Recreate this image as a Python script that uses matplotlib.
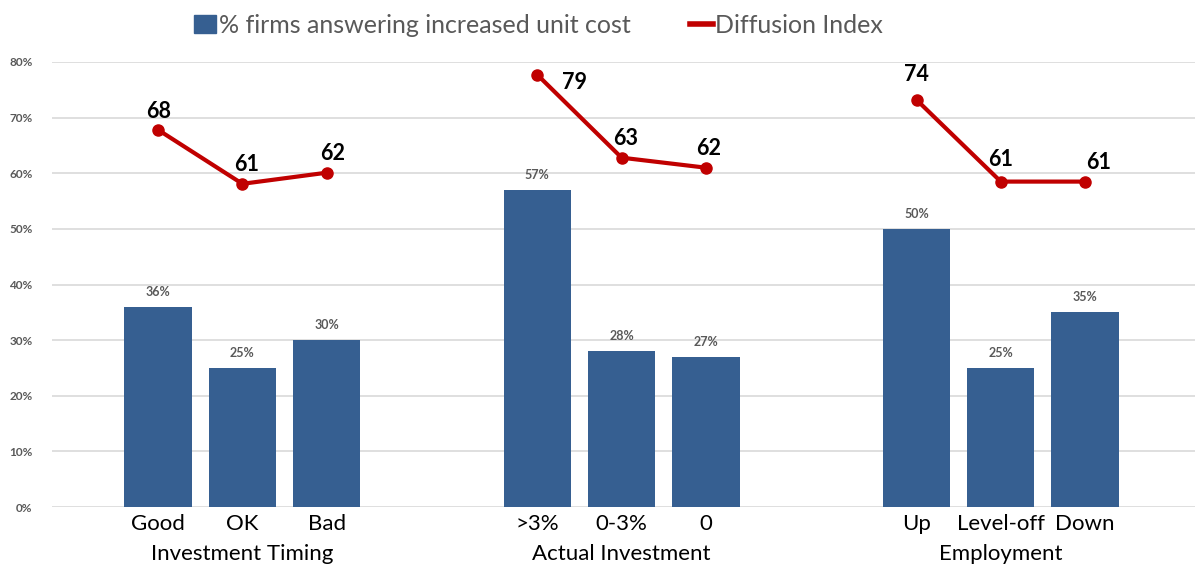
import matplotlib.pyplot as plt
from matplotlib.lines import Line2D
from matplotlib.patches import Patch

plt.rcParams['font.family'] = ['Lato', 'DejaVu Sans']

categories = ['Good', 'OK', 'Bad', '>3%', '0-3%', '0', 'Up', 'Level-off', 'Down']
groups = ['Investment Timing', 'Actual Investment', 'Employment']
# % firms answering increased unit cost
cost_pct = [36, 25, 30, 57, 28, 27, 50, 25, 35]
# diffusion index: plotted level (on % scale) and its label
di_level = [67.8, 58.1, 60.1, 77.7, 62.8, 61.0, 73.2, 58.5, 58.5]
di_label = [68, 61, 62, 79, 63, 62, 74, 61, 61]

xpos = [0, 1, 2, 4.5, 5.5, 6.5, 9, 10, 11]
bar_color = '#365F91'
line_color = '#C00000'

fig = plt.figure(figsize=(11.97, 5.74), dpi=100)
ax = fig.add_axes([0.0434, 0.1167, 0.9546, 0.7753])

ax.bar(xpos, cost_pct, width=0.8, color=bar_color, zorder=2)
for x, v in zip(xpos, cost_pct):
    ax.text(x, v + 1.6, f'{v}%', ha='center', va='bottom', fontsize=9,
            color='#595959', fontweight='bold')

# label offsets (points) for the diffusion index values
offs = [(0, 6), (3, 6), (4, 6), (27, -13), (3, 6), (2, 6), (0, 11), (0, 8), (10, 6)]
for g in range(3):
    xs = xpos[g * 3:g * 3 + 3]
    ys = di_level[g * 3:g * 3 + 3]
    ax.plot(xs, ys, color=line_color, lw=3, marker='o', ms=8, zorder=3)
for x, y, lab, (dx, dy) in zip(xpos, di_level, di_label, offs):
    ax.annotate(str(lab), (x, y), xytext=(dx, dy), textcoords='offset points',
                ha='center', va='bottom', fontsize=15.5, fontweight='bold',
                color='black')

ax.set_xlim(-1.26, 12.3)
ax.set_ylim(0, 80)
ax.set_yticks(range(0, 81, 10))
ax.set_yticklabels([f'{t}%' for t in range(0, 81, 10)], fontsize=8.5,
                   color='#595959', fontweight='bold')
ax.grid(axis='y', color='#D9D9D9', lw=1.2, zorder=0)
ax.set_axisbelow(True)
for s in ax.spines.values():
    s.set_visible(False)
ax.tick_params(axis='y', length=0, pad=14)
ax.set_xticks(xpos)
ax.set_xticklabels(categories, fontsize=16, color='black')
ax.tick_params(axis='x', length=0, pad=5)

for g, name in enumerate(groups):
    cx = xpos[g * 3 + 1]
    ax.text(cx, -0.083, name, transform=ax.get_xaxis_transform(),
            ha='center', va='top', fontsize=16, color='black')

handles = [Patch(color=bar_color), Line2D([0], [0], color=line_color, lw=4)]
fig.legend(handles, ['% firms answering increased unit cost', 'Diffusion Index'],
           loc='upper left', bbox_to_anchor=(0.143, 1.015), ncol=2, frameon=False,
           fontsize=18, handlelength=0.9, handletextpad=0.1, columnspacing=2.4,
           labelcolor='#595959')

fig.savefig('out.png', dpi=100)
